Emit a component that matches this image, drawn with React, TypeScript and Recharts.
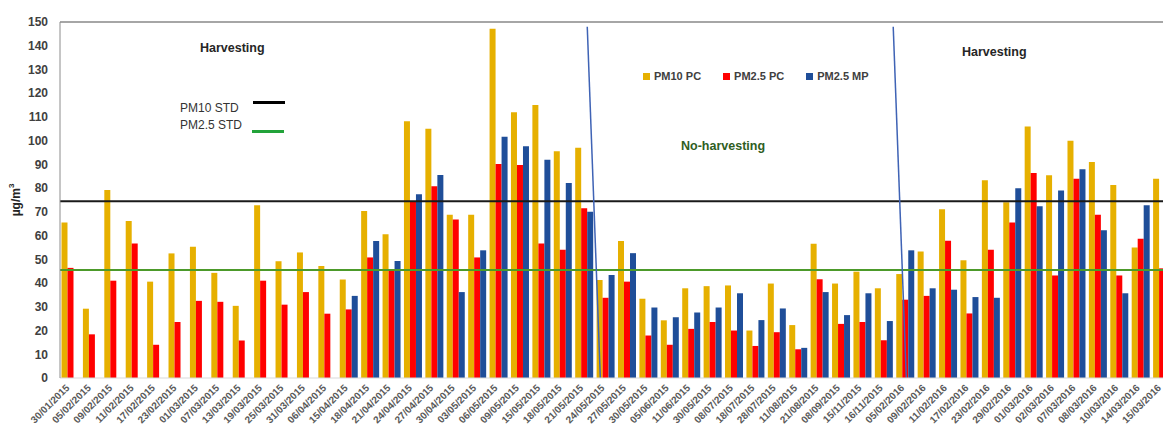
import React from 'react';
import { BarChart, Bar, XAxis, YAxis, ReferenceLine, Legend } from 'recharts';

const dates = [
  '30/01/2015', '05/02/2015', '09/02/2015', '11/02/2015', '17/02/2015', '23/02/2015', '01/03/2015',
  '07/03/2015', '13/03/2015', '19/03/2015', '25/03/2015', '31/03/2015', '06/04/2015', '15/04/2015',
  '18/04/2015', '21/04/2015', '24/04/2015', '27/04/2015', '30/04/2015', '03/05/2015', '06/05/2015',
  '09/05/2015', '15/05/2015', '18/05/2015', '21/05/2015', '24/05/2015', '27/05/2015', '30/05/2015',
  '05/06/2015', '11/06/2015', '30/05/2015', '08/07/2015', '18/07/2015', '28/07/2015', '11/08/2015',
  '21/08/2015', '08/09/2015', '15/11/2015', '16/11/2015', '05/02/2016', '09/02/2016', '11/02/2016',
  '17/02/2016', '23/02/2016', '29/02/2016', '01/03/2016', '02/03/2016', '07/03/2016', '08/03/2016',
  '10/03/2016', '14/03/2016', '15/03/2016',
];

const pm10PC = [
  65.5, 29.2, 79.2, 66.2, 40.6, 52.5, 55.3, 44.3, 30.4, 72.8,
  49.2, 52.9, 47.2, 41.5, 70.4, 60.6, 108.2, 105, 68.8, 68.8,
  147.2, 112, 115, 95.5, 97, 41.3, 57.7, 33.4, 24.3, 37.8,
  38.7, 39, 20, 39.8, 22.3, 56.6, 39.8, 44.8, 37.8, 43.8,
  53.3, 71.1, 49.6, 83.3, 74, 106, 85.4, 100, 91, 81.3,
  55, 84,
];

const pm25PC = [
  46.4, 18.4, 41, 56.7, 14, 23.6, 32.5, 32.1, 15.8, 41,
  30.9, 36.2, 27.1, 28.9, 50.8, 45.2, 74.3, 80.8, 66.8, 50.8,
  90.2, 89.7, 56.7, 54, 71.5, 33.8, 40.6, 17.9, 14, 20.7,
  23.6, 20, 13.5, 19.3, 12.1, 41.6, 22.8, 23.6, 15.9, 33,
  34.6, 57.8, 27.2, 54, 65.5, 86.4, 43.2, 84, 68.8, 43.2,
  58.7, 46.2,
];

const pm25MP = [
  null, null, null, null, null, null, null, null, null, null,
  null, null, null, 34.6, 57.7, 49.3, 77.4, 85.5, 36.2, 53.8,
  101.7, 97.7, 92, 82.2, 70, 43.4, 52.6, 29.7, 25.6, 27.6,
  29.7, 35.7, 24.4, 29.3, 12.7, 36.2, 26.5, 35.7, 24, 53.8,
  37.8, 37.2, 34.1, 33.8, 80, 72.4, 79, 88, 62.3, 35.7,
  72.8, null,
];

const yTicks = [0, 10, 20, 30, 40, 50, 60, 70, 80, 90, 100, 110, 120, 130, 140, 150];

const seriesOrder = ['PM10 PC', 'PM2.5 PC', 'PM2.5 MP'];

// standards drawn as horizontal lines
const PM10_STD = 74.5;
const PM25_STD = 45.5;

// season boundaries (positions on a hidden numeric axis)
const dividers = [
  { top: 24.16, bottom: 24.76 },
  { top: 38.18, bottom: 38.78 },
];

const data = dates.map((date, i) => ({
  date,
  pm10: pm10PC[i],
  pm25: pm25PC[i],
  mp: pm25MP[i],
}));

const FONT = '"Liberation Sans", Arial, sans-serif';

const XTick = (props: any) => {
  const { x, y, payload } = props;
  return (
    <text
      x={x - 3}
      y={y}
      dy="0.35em"
      transform={`rotate(-45 ${x - 3} ${y})`}
      textAnchor="end"
      fontSize={10}
      fontWeight={700}
      fill="#595959"
      fontFamily={FONT}
    >
      {payload.value}
    </text>
  );
};

const renderLegend = (props: any) => {
  const items = [...props.payload].sort(
    (a: any, b: any) => seriesOrder.indexOf(a.value) - seriesOrder.indexOf(b.value)
  );
  return (
    <div style={{ display: 'flex', gap: 22, fontFamily: FONT, fontSize: 11, fontWeight: 700, color: '#404040' }}>
      {items.map((entry: any) => (
        <div key={entry.value} style={{ display: 'flex', alignItems: 'center', gap: 4 }}>
          <span style={{ width: 7, height: 7, background: entry.color, display: 'inline-block' }} />
          <span>{entry.value}</span>
        </div>
      ))}
    </div>
  );
};

export default function App() {
  return (
    <div style={{ position: 'absolute', left: 0, top: 0, width: 1163, height: 430, overflow: 'hidden', background: '#fff', fontFamily: FONT }}>
      <BarChart
        width={1173}
        height={430}
        data={data}
        margin={{ top: 22, right: 0, bottom: 0, left: 0 }}
        barCategoryGap="7%"
        barGap={0}
      >
        <XAxis
          dataKey="date"
          interval={0}
          height={52}
          tickLine={false}
          tickSize={0}
          tickMargin={8}
          axisLine={{ stroke: '#d9d9d9' }}
          tick={<XTick />}
        />
        <XAxis
          xAxisId="n"
          type="number"
          scale="linear"
          domain={[0, 52]}
          allowDataOverflow
          padding={{ left: 0, right: 0 }}
          hide
        />
        <YAxis
          domain={[0, 150]}
          ticks={yTicks}
          interval={0}
          width={60}
          tickLine={false}
          tickSize={0}
          tickMargin={12}
          axisLine={{ stroke: '#8c8c8c' }}
          tick={{ fontSize: 12, fontWeight: 700, fill: '#404040', fontFamily: FONT }}
          label={() => (
            <text transform="translate(16,200) rotate(-90)" textAnchor="middle" dominantBaseline="central" fontSize={12} fontWeight={700} fill="#262626" fontFamily={FONT}>
              µg/m<tspan fontSize={8} dy={-5}>3</tspan>
            </text>
          )}
        />
        <Legend
          layout="horizontal"
          verticalAlign="middle"
          align="center"
          content={renderLegend}
          wrapperStyle={{ position: 'absolute', top: 70, left: 643, width: 260 }}
        />
        <Bar dataKey="pm10" name="PM10 PC" fill="#E6B000" isAnimationActive={false} />
        <Bar dataKey="pm25" name="PM2.5 PC" fill="#FF0000" isAnimationActive={false} />
        <Bar dataKey="mp" name="PM2.5 MP" fill="#1F4E99" isAnimationActive={false} />
        <ReferenceLine y={150} stroke="#a6a6a6" strokeWidth={2} />
        <ReferenceLine y={PM10_STD} stroke="#1a1a1a" strokeWidth={2} />
        <ReferenceLine y={PM25_STD} stroke="#4c9a2a" strokeWidth={2} />
        {dividers.map((d, i) => (
          <ReferenceLine
            key={i}
            xAxisId="n"
            segment={[{ x: d.top, y: 148 }, { x: d.bottom, y: 0 }]}
            stroke="#3f63b5"
            strokeWidth={1.5}
          />
        ))}
      </BarChart>

      <div style={{ position: 'absolute', left: 200, top: 41, fontSize: 12.5, fontWeight: 700, color: '#262626' }}>Harvesting</div>
      <div style={{ position: 'absolute', left: 962, top: 45, fontSize: 12.5, fontWeight: 700, color: '#262626' }}>Harvesting</div>
      <div style={{ position: 'absolute', left: 681, top: 139, fontSize: 12.5, fontWeight: 700, color: '#2f5e1f' }}>No-harvesting</div>

      <div style={{ position: 'absolute', left: 180, top: 101, fontSize: 12, color: '#333' }}>PM10 STD</div>
      <div style={{ position: 'absolute', left: 253, top: 100.5, width: 32, height: 3, background: '#000' }} />
      <div style={{ position: 'absolute', left: 180, top: 118, fontSize: 12, color: '#333' }}>PM2.5 STD</div>
      <div style={{ position: 'absolute', left: 252, top: 129.5, width: 32, height: 3, background: '#22a33a' }} />
    </div>
  );
}
